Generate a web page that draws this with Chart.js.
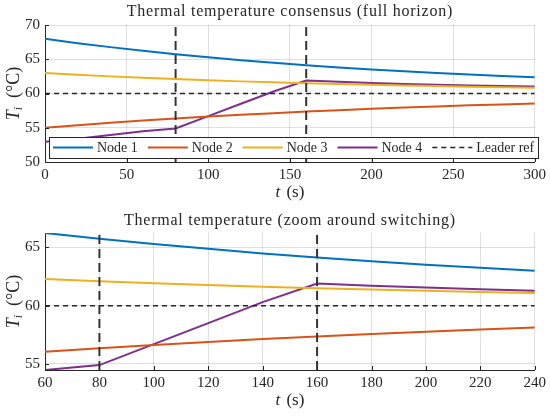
<!DOCTYPE html>
<html><head><meta charset="utf-8">
<script src="https://cdn.jsdelivr.net/npm/chart.js@4.4.1/dist/chart.umd.min.js"></script>
<style>
html,body{margin:0;padding:0;background:#fff;}
#wrap{position:relative;width:550px;height:416px;background:#fff;}
canvas{position:absolute;left:0;}
#c1{top:0;width:550px;height:206px;}
#c2{top:206px;width:550px;height:210px;}
</style></head><body>
<div id="wrap"><canvas id="c1" width="550" height="206"></canvas><canvas id="c2" width="550" height="210"></canvas></div>
<script>
// ---- data ----
const timeS = [0,20,40,60,80,100,120,140,160,180,200,220,240,260,280,300];
const node1 = [68.0,67.35,66.77,66.23,65.74,65.28,64.87,64.48,64.13,63.81,63.51,63.24,62.99,62.76,62.55,62.36];
const node2 = [55.0,55.38,55.73,56.05,56.35,56.63,56.89,57.13,57.36,57.57,57.77,57.95,58.12,58.27,58.41,58.54];
const node3 = [63.0,62.74,62.5,62.29,62.1,61.93,61.77,61.63,61.5,61.38,61.27,61.17,61.08,61.0,60.92,60.85];
const node4 = [52.95,53.4,53.95,54.48,54.9,56.7,58.5,60.3,61.9,61.7,61.55,61.4,61.28,61.18,61.1,61.03];
const seriesLabels = ['Node 1','Node 2','Node 3','Node 4'];
const leaderLabel = 'Leader ref';
const leaderRef = 60;
const switchTimes = [80,160];
const topXTicks = [0,50,100,150,200,250,300];
const topYTicks = [50,55,60,65,70];
const zoomXTicks = [60,80,100,120,140,160,180,200,220,240];
const zoomYTicks = [55,60,65];
const titleTop = 'Thermal temperature consensus (full horizon)';
const titleZoom = 'Thermal temperature (zoom around switching)';

const colors = ['#0072BD','#D95319','#EDB120','#7E2F8E'];
const TXT = '#262626';
const SERIF = "'Liberation Serif', 'DejaVu Serif', serif";

function buildDatasets(xmin, xmax, ymin, ymax){
  const all = [node1,node2,node3,node4];
  const ds = all.map((arr,i)=>({
    label: seriesLabels[i],
    data: timeS.map((t,k)=>({x:t,y:arr[k]})),
    borderColor: colors[i], backgroundColor: colors[i],
    borderWidth: 2, pointRadius: 0, tension: 0, order: 2
  }));
  ds.push({
    label: leaderLabel,
    data: [{x:xmin,y:leaderRef},{x:xmax,y:leaderRef}],
    borderColor: '#262626', borderWidth: 1.5, borderDash: [5,4],
    pointRadius: 0, order: 1
  });
  switchTimes.forEach(s=>{
    ds.push({
      label: 'switch', data: [{x:s,y:ymin},{x:s,y:ymax}],
      borderColor: '#333333', borderWidth: 2, borderDash: [9,5],
      pointRadius: 0, order: 0, hideLegend: true
    });
  });
  return ds;
}

const decorPlugin = {
  id: 'decor',
  afterDraw(chart, args, opts){
    const ctx = chart.ctx, a = chart.chartArea;
    const xs = chart.scales.x, ys = chart.scales.y;
    ctx.save();
    // inward tick marks
    ctx.strokeStyle = TXT; ctx.lineWidth = 1;
    xs.ticks.forEach(t=>{ const p = Math.round(xs.getPixelForValue(t.value))+0.5;
      ctx.beginPath(); ctx.moveTo(p,a.bottom); ctx.lineTo(p,a.bottom-4); ctx.stroke(); });
    ys.ticks.forEach(t=>{ const p = Math.round(ys.getPixelForValue(t.value))+0.5;
      ctx.beginPath(); ctx.moveTo(a.left,p); ctx.lineTo(a.left+4,p); ctx.stroke(); });
    ctx.fillStyle = TXT;
    // title
    ctx.font = '16px ' + SERIF;
    ctx.letterSpacing = '0.75px';
    ctx.textAlign = 'center'; ctx.textBaseline = 'middle';
    ctx.fillText(opts.title, (a.left+a.right)/2, opts.titleY);
    ctx.letterSpacing = '0px';
    // x title: t (s)
    ctx.textAlign = 'left';
    ctx.font = 'italic 17px ' + SERIF; const w1 = ctx.measureText('t').width;
    ctx.font = '17px ' + SERIF; const w2 = ctx.measureText(' (s)').width + 2;
    let x0 = (a.left+a.right)/2 - (w1+w2)/2;
    ctx.font = 'italic 17px ' + SERIF; ctx.fillText('t', x0, a.bottom + opts.xTitleDy);
    ctx.font = '17px ' + SERIF; ctx.fillText(' (s)', x0+w1+2, a.bottom + opts.xTitleDy);
    // y title: T_i (°C)
    ctx.translate(opts.yTitleX, (a.top+a.bottom)/2);
    ctx.rotate(-Math.PI/2);
    ctx.font = 'italic 18px ' + SERIF; const wT = ctx.measureText('T').width;
    ctx.font = 'italic 12px ' + SERIF; const wi = ctx.measureText('i').width;
    ctx.font = '18px ' + SERIF; const wr = ctx.measureText('  (°C)').width;
    let y0 = -(wT+wi+wr)/2;
    ctx.font = 'italic 18px ' + SERIF; ctx.fillText('T', y0, 0);
    ctx.font = 'italic 12px ' + SERIF; ctx.fillText('i', y0+wT, 5);
    ctx.font = '18px ' + SERIF; ctx.fillText('  (°C)', y0+wT+wi, 0);
    ctx.restore();
    // legend
    if (opts.legend){
      const items = chart.data.datasets.filter(d=>!d.hideLegend);
      ctx.save();
      ctx.font = '14px ' + SERIF;
      const lineLen = 40, gapT = 4, gapE = 10, pad = 4, h = 21;
      let total = pad;
      items.forEach((d,i)=>{ total += lineLen + gapT + ctx.measureText(d.label).width + (i<items.length-1?gapE:pad); });
      const bx = a.left + 4, by = a.bottom - 4 - h;
      ctx.fillStyle = '#fff'; ctx.fillRect(bx, by, total, h);
      ctx.strokeStyle = '#262626'; ctx.lineWidth = 1;
      ctx.strokeRect(Math.round(bx)+0.5, Math.round(by)+0.5, Math.round(total), h);
      let cx = bx + pad; const cy = by + h/2;
      items.forEach((d,i)=>{
        ctx.strokeStyle = d.borderColor; ctx.lineWidth = d.borderWidth;
        ctx.setLineDash(d.borderDash || []);
        ctx.beginPath(); ctx.moveTo(cx, cy); ctx.lineTo(cx+lineLen, cy); ctx.stroke();
        ctx.setLineDash([]);
        cx += lineLen + gapT;
        ctx.fillStyle = TXT; ctx.textAlign='left'; ctx.textBaseline='middle';
        ctx.fillText(d.label, cx, cy+1);
        cx += ctx.measureText(d.label).width + gapE;
      });
      ctx.restore();
    }
  }
};

function makeChart(id, cfg){
  return new Chart(document.getElementById(id), {
    type: 'line',
    data: { datasets: buildDatasets(cfg.xmin, cfg.xmax, cfg.ymin, cfg.ymax) },
    options: {
      responsive: false, animation: false, devicePixelRatio: 1,
      layout: { padding: { top: cfg.padTop, right: 15, left: 0, bottom: 0 } },
      plugins: { legend: { display: false }, tooltip: { enabled: false },
        decor: { title: cfg.title, titleY: cfg.titleY, xTitleDy: 31, yTitleX: 14, legend: cfg.legend } },
      scales: {
        x: { type: 'linear', min: cfg.xmin, max: cfg.xmax,
          afterBuildTicks: s => { s.ticks = cfg.xticks.map(v=>({value:v})); },
          afterFit: s => { s.height = cfg.xAxisH; },
          ticks: { color: TXT, font: { family: SERIF, size: 15 }, padding: 4, maxRotation: 0, autoSkip: false },
          grid: { color: 'rgba(38,38,38,0.15)', drawTicks: false },
          border: { display: true, color: TXT, width: 1 } },
        y: { type: 'linear', min: cfg.ymin, max: cfg.ymax,
          afterBuildTicks: s => { s.ticks = cfg.yticks.map(v=>({value:v})); },
          afterFit: s => { s.width = 45; },
          ticks: { color: TXT, font: { family: SERIF, size: 15 }, padding: 5 },
          grid: { color: 'rgba(38,38,38,0.15)', drawTicks: false },
          border: { display: true, color: TXT, width: 1 } }
      }
    },
    plugins: [decorPlugin]
  });
}

makeChart('c1', { xmin:0, xmax:300, ymin:50, ymax:70, xticks: topXTicks, yticks: topYTicks,
  padTop: 25, xAxisH: 44, title: titleTop, titleY: 12, legend: true });
makeChart('c2', { xmin:60, xmax:240, ymin:54.48, ymax:66.23, xticks: zoomXTicks, yticks: zoomYTicks,
  padTop: 27, xAxisH: 46, title: titleZoom, titleY: 15, legend: false });
</script>
</body></html>
